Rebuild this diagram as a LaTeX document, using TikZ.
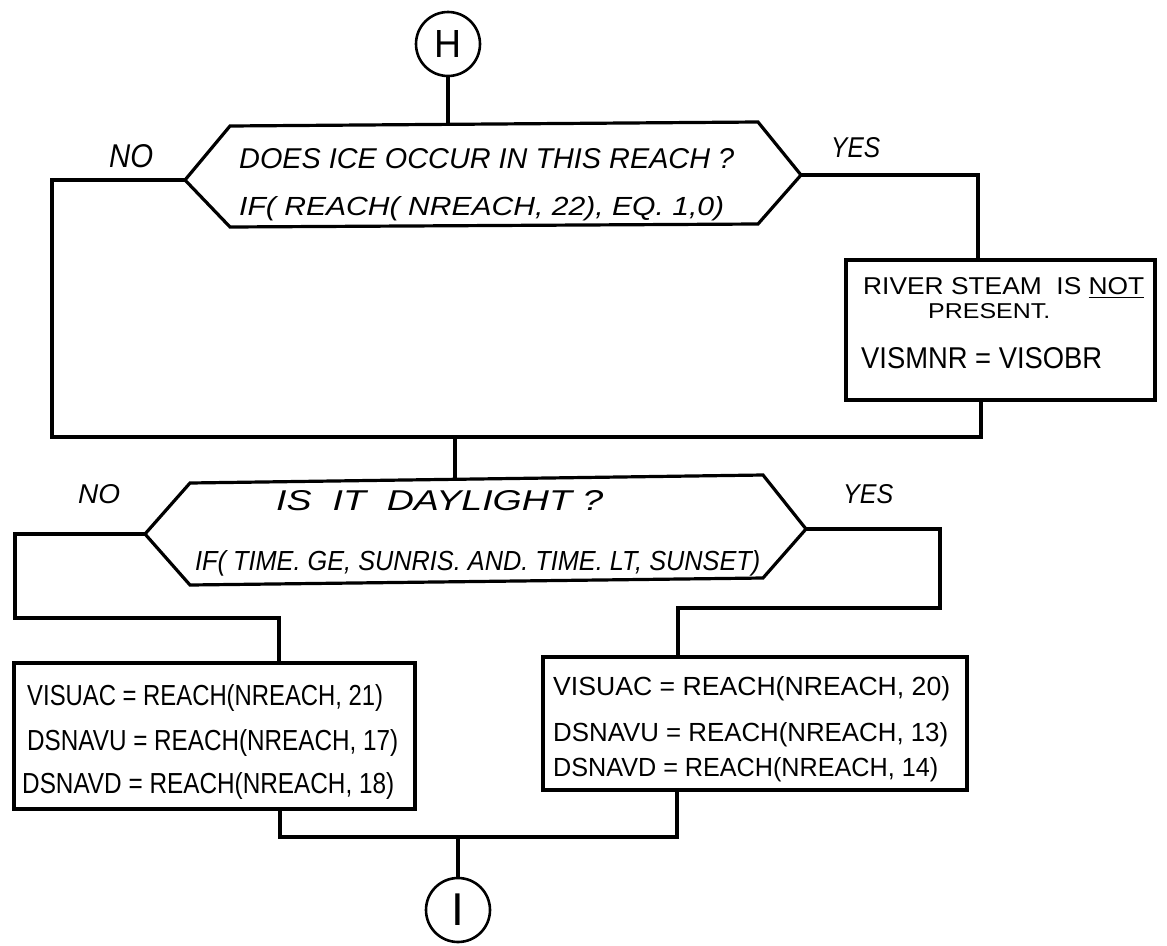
\documentclass[tikz,border=0pt]{standalone}
\usepackage{fontspec}
\setmainfont{Liberation Sans}
\newcommand\hw[3]{\resizebox{#1pt}{#2pt}{#3}}
\begin{document}
\begin{tikzpicture}[x=1pt,y=-1pt,
  ln/.style={line width=3.2pt},
  txt/.style={inner sep=0pt, anchor=base west},
  boxnode/.style={draw, line width=3.2pt, rectangle, inner sep=0pt},
  conn/.style={circle, draw, line width=2.6pt, minimum size=64pt, inner sep=0pt}]
\useasboundingbox[fill=white] (0,0) rectangle (1167,945);

% connectors
\node[conn] (H) at (448,44) {\hw{27}{27}{H}};
\node[conn] (I) at (458,910) {\fontsize{46}{46}\selectfont\rmfamily I};

% decision 1
\coordinate (a1) at (230,126); \coordinate (a2) at (758,122);
\coordinate (a3) at (801,175); \coordinate (a4) at (758,224);
\coordinate (a5) at (230,227); \coordinate (a6) at (185,180);
\draw[ln] (a1) -- (a2) -- (a3) -- (a4) -- (a5) -- (a6) -- cycle;
\node[txt] (q1a) at (239,168) {\hw{495}{20}{\itshape DOES ICE OCCUR IN THIS REACH ?}};
\node[txt] (q1b) at (239,215) {\hw{485}{19}{\itshape IF( REACH( NREACH, 22), EQ. 1,0)}};
\node[txt] (no1) at (109,167) {\hw{44}{23}{\itshape NO}};
\node[txt] (yes1) at (831,157) {\hw{49}{20}{\itshape YES}};

% box right (river steam)
\node[boxnode, minimum width=309pt, minimum height=140pt] (rs) at (1000.5,330) {};
\node[txt] (rs1) at (863,294) {\hw{281}{17}{RIVER STEAM \ IS \underline{NOT}}};
\node[txt] (rs2) at (928,318) {\hw{122}{15}{PRESENT.}};
\node[txt] (rs3) at (861,368) {\hw{241}{21}{VISMNR = VISOBR}};

% decision 2
\coordinate (b1) at (190,483); \coordinate (b2) at (763,475);
\coordinate (b3) at (806,529); \coordinate (b4) at (763,578);
\coordinate (b5) at (190,585); \coordinate (b6) at (145,534);
\draw[ln] (b1) -- (b2) -- (b3) -- (b4) -- (b5) -- (b6) -- cycle;
\node[txt] (q2a) at (276,510) {\hw{327}{20}{\itshape IS \ IT \ DAYLIGHT ?}};
\node[txt] (q2b) at (195,570) {\hw{565}{20}{\itshape IF( TIME. GE, SUNRIS. AND. TIME. LT, SUNSET)}};
\node[txt] (no2) at (78,503) {\hw{42}{19}{\itshape NO}};
\node[txt] (yes2) at (843,503) {\hw{50}{19}{\itshape YES}};

% lower boxes
\node[boxnode, minimum width=401pt, minimum height=146pt] (lb) at (214.5,736) {};
\node[txt] (l1) at (27,705) {\hw{356}{21}{VISUAC = REACH(NREACH, 21)}};
\node[txt] (l2) at (27,750) {\hw{371}{21}{DSNAVU = REACH(NREACH, 17)}};
\node[txt] (l3) at (22,793) {\hw{372}{21}{DSNAVD = REACH(NREACH, 18)}};

\node[boxnode, minimum width=424pt, minimum height=133pt] (rb) at (755,723.5) {};
\node[txt] (r1) at (553,695) {\hw{397}{19}{VISUAC = REACH(NREACH, 20)}};
\node[txt] (r2) at (553,741) {\hw{395}{19}{DSNAVU = REACH(NREACH, 13)}};
\node[txt] (r3) at (553,776) {\hw{385}{19}{DSNAVD = REACH(NREACH, 14)}};

% junction coordinates
\coordinate (t1) at (448,124);
\coordinate (m1) at (455,437);
\coordinate (t2) at (455,480);
\coordinate (rsIn) at (978,260);
\coordinate (rsOut) at (981,400);
\coordinate (lj) at (279,618);
\coordinate (rj) at (678,608);
\coordinate (lbIn) at (279,663);
\coordinate (rbIn) at (678,657);
\coordinate (lbOut) at (280,809);
\coordinate (rbOut) at (677,790);
\coordinate (bj) at (458,837);

% connectors
\draw[ln] (H.south) -- (t1);
\draw[ln] (a6) -- ++(-133,0) |- (m1);
\draw[ln] (a3) -| (rsIn);
\draw[ln] (rsOut) |- (m1);
\draw[ln] (m1) -- (t2);
\draw[ln] (b6) -- ++(-130,0) |- (lj) -- (lbIn);
\draw[ln] (b3) -- ++(134,0) |- (rj) -- (rbIn);
\draw[ln] (lbOut) |- (bj);
\draw[ln] (rbOut) |- (bj);
\draw[ln] (bj) -- (I.north);
\end{tikzpicture}
\end{document}
